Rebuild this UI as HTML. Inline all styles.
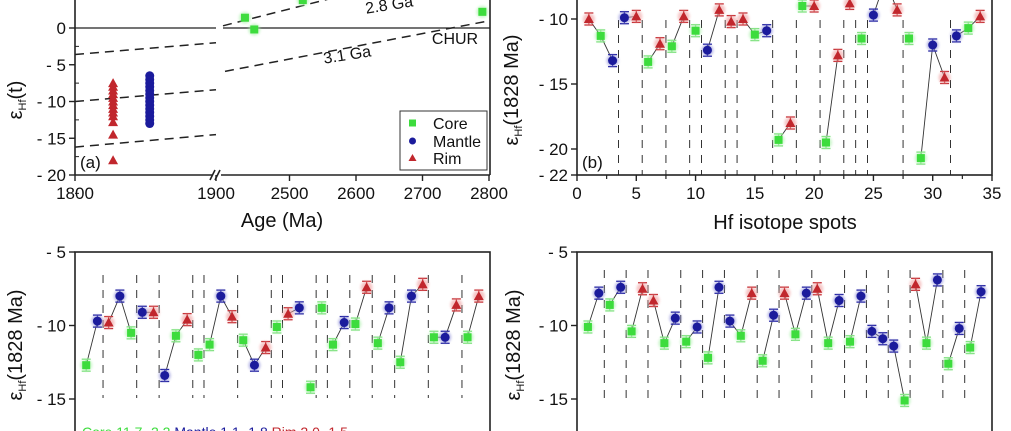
<!DOCTYPE html>
<html><head><meta charset="utf-8"><style>
html,body{margin:0;padding:0;background:#fff;overflow:hidden;width:1011px;height:431px}
svg{display:block;overflow:hidden;font-family:"Liberation Sans",Arial,sans-serif}
</style></head><body>
<svg id="fig" width="1011" height="431" viewBox="0 0 1011 431" xmlns="http://www.w3.org/2000/svg">
<defs><filter id="glow" x="-50%" y="-50%" width="200%" height="200%"><feGaussianBlur stdDeviation="1.2"/></filter></defs>
</svg>
<script>
// ---------- Panel (a) data ----------
var aRimAges=[1827,1827,1827,1827,1827,1827,1827,1827,1827,1827,1827,1827,1827];
var aRimVals=[-7.5,-8,-8.5,-9,-9.5,-10,-10.5,-11,-11.5,-12,-12.8,-14.5,-18];
var aMantleAges=[1853,1853,1853,1853,1853,1853,1853,1853,1853,1853,1853,1853,1853,1853];
var aMantleVals=[-6.5,-7,-7.5,-8,-8.5,-9,-9.5,-10,-10.5,-11,-11.5,-12,-12.5,-13];
var aCoreAges=[2433,2447,2520,2790];
var aCoreVals=[1.4,-0.2,3.8,2.2];
var aYTicks=[0,-5,-10,-15,-20];
var aYTickLabels=["0","- 5","- 10","- 15","- 20"];
// ---------- Panel (b) data ----------
var bVals=[-10.0,-11.3,-13.2,-9.9,-9.8,-13.3,-11.9,-12.1,-9.8,-10.9,-12.4,-9.3,-10.2,-10.0,-11.2,-10.9,-19.3,-18.0,-9.0,-9.0,-19.5,-12.8,-8.8,-11.5,-9.7,-7.0,-9.3,-11.5,-20.7,-12.0,-14.5,-11.3,-10.7,-9.8];
var bTypes=["R","C","M","M","R","C","R","C","R","C","M","R","R","R","C","M","C","R","C","R","C","R","R","C","M","M","R","C","C","M","R","M","C","R"];
var bGroups=[[1,2,3],[4,5],[6,7],[8,9],[10],[11,12],[13],[14,15,16],[17,18],[19,20],[21,22],[23],[24],[25,26,27],[28],[29,30,31],[32,33,34]];
var bDividers=[3.5,5.5,7.5,9.5,10.5,12.5,13.5,16.5,18.5,20.5,22.5,23.5,24.5,27.5,31.5];
var bYTicks=[-10,-15,-20,-22];
var bYTickLabels=["- 10","- 15","- 20","- 22"];
var bXTicks=[0,5,10,15,20,25,30,35];
// ---------- Panel (c) data ----------
var cVals=[-12.7,-9.7,-9.8,-8.0,-10.5,-9.1,-9.1,-13.4,-10.7,-9.6,-12.0,-11.3,-8.0,-9.4,-11.0,-12.7,-11.5,-10.1,-9.2,-8.8,-14.2,-8.8,-11.3,-9.8,-9.9,-7.4,-11.2,-8.8,-12.5,-8.0,-7.2,-10.8,-10.8,-8.6,-10.8,-8.0];
var cTypes=["C","M","R","M","C","M","R","M","C","R","C","C","M","R","C","M","R","C","R","M","C","C","C","M","C","R","C","M","C","M","R","C","M","R","C","R"];
var cGroups=[[1,2],[3,4,5],[6,7],[8,9,10],[11],[12,13,14],[15,16,17],[18],[19,20],[21],[22],[23,24],[25,26],[27,28],[29,30,31],[32,33,34],[35,36]];
var cDividers=[2.5,5.5,7.5,10.5,11.5,14.5,17.5,18.5,21.5,22.5,24.5,26.5,28.5,31.5,34.5];
// ---------- Panel (d) data ----------
var dVals=[-10.1,-7.8,-8.6,-7.4,-10.4,-7.5,-8.3,-11.2,-9.5,-11.1,-10.1,-12.2,-7.4,-9.7,-10.7,-7.8,-12.4,-9.3,-7.8,-10.6,-7.8,-7.5,-11.2,-8.3,-11.1,-8.0,-10.4,-10.9,-11.4,-15.1,-7.2,-11.2,-6.9,-12.6,-10.2,-11.5,-7.7];
var dTypes=["C","M","C","M","C","R","R","C","M","C","M","C","M","M","C","R","C","M","R","C","M","R","C","M","C","M","M","M","M","C","R","C","M","C","M","C","M"];
var dGroups=[[1,2],[3,4],[5,6],[7,8,9],[10,11],[12,13],[14,15,16],[17,18],[19,20,21],[22,23,24],[25,26],[27,28],[29,30],[31,32,33],[34,35],[36,37]];
var dDividers=[2.5,4.5,6.5,9.5,11.5,13.5,16.5,18.5,21.5,24.5,26.5,28.5,30.5,33.5,35.5];
var cdYTicks=[-5,-10,-15];
var cdYTickLabels=["- 5","- 10","- 15"];

var NS="http://www.w3.org/2000/svg";
var svg=document.getElementById('fig');
var COL={C:"#3ddc3d",M:"#1b1b9c",R:"#c1272d"};
var LIGHT={C:"#a8f0a8",M:"#8c8cd8",R:"#f0a0a0"};
function mk(tag,attrs,parent){var e=document.createElementNS(NS,tag);for(var k in attrs)e.setAttribute(k,attrs[k]);(parent||svg).appendChild(e);return e;}
function txt(s,x,y,size,anchor,parent,rot){var t=mk('text',{x:x,y:y,'font-size':size,'text-anchor':anchor||'middle',fill:'#111'},parent);if(rot)t.setAttribute('transform','rotate('+rot+' '+x+' '+y+')');t.textContent=s;return t;}

function marker(g,type,x,y,err,noGlow){
  var c=COL[type];
  if(err){
    var eg=mk('g',{stroke:type==='C'?'#7fe07f':c,'stroke-width':1.3},g);
    mk('line',{x1:x,y1:y-err,x2:x,y2:y+err},eg);
    mk('line',{x1:x-4.5,y1:y-err,x2:x+4.5,y2:y-err},eg);
    mk('line',{x1:x-4.5,y1:y+err,x2:x+4.5,y2:y+err},eg);
  }
  if(!noGlow)mk('circle',{cx:x,cy:y,r:6,fill:LIGHT[type],opacity:0.6,filter:'url(#glow)'},g);
  if(type==='C'){mk('rect',{x:x-4,y:y-4,width:8,height:8,fill:c},g);}
  else if(type==='M'){mk('circle',{cx:x,cy:y,r:4.5,fill:c},g);}
  else {mk('polygon',{points:(x)+','+(y-5)+' '+(x+5)+','+(y+4)+' '+(x-5)+','+(y+4),fill:c},g);}
}

function spotPanel(name,L,R,T,B,xmax,yTop,yBot,vals,types,groups,dividers,yTicks,yLabels,xTicks,divTop,divBot,label,errPx){
  var g=mk('g',{});
  
  
  var sx=function(n){return L+(n/xmax)*(R-L);};
  var sy=function(v){return T+(yTop-v)/(yTop-yBot)*(B-T);};
  var clipId=name+'-clip';
  var cp=mk('clipPath',{id:clipId},g);mk('rect',{x:L,y:T,width:R-L,height:B-T},cp);
  var inner=mk('g',{'clip-path':'url(#'+clipId+')'},g);
  dividers.forEach(function(d){
    var l=mk('line',{x1:sx(d),x2:sx(d),y1:divTop,y2:divBot,stroke:'#333','stroke-width':1,'stroke-dasharray':'8,7'},inner);
    
    
  });
  groups.forEach(function(gr){
    if(gr.length<2)return;
    var pts=gr.map(function(n){return sx(n)+','+sy(vals[n-1]);}).join(' ');
    var pl=mk('polyline',{points:pts,fill:'none',stroke:'#333','stroke-width':0.9},inner);
    
    
  });
  vals.forEach(function(v,i){
    var mg=mk('g',{},inner);
    
    
    marker(mg,types[i],sx(i+1),sy(v),errPx);
  });
  var ax=mk('g',{stroke:'#222','stroke-width':1.6,fill:'none'},g);
  
  
  mk('rect',{x:L,y:T,width:R-L,height:B-T},ax);
  yTicks.forEach(function(t,i){
    var y=sy(t);
    mk('line',{x1:L-6,x2:L,y1:y,y2:y,stroke:'#222','stroke-width':1.4},g);
    var tl=txt(yLabels[i],L-9,y+6,17,'end',g);
    
    
  });
  if(xTicks){xTicks.forEach(function(t){
    var x=sx(t);
    mk('line',{x1:x,x2:x,y1:B,y2:B+6,stroke:'#222','stroke-width':1.4},g);
    var tl=txt(String(t),x,B+24,17,'middle',g);
    
    
    if(t<xmax){mk('line',{x1:sx(t+2.5),x2:sx(t+2.5),y1:B,y2:B+4,stroke:'#222','stroke-width':1.2},g);}
  });}
  if(label){var pl2=txt(label,L+5,B-7,17,'start',g);}
  return {g:g,sx:sx,sy:sy};
}

function yTitle(x,y,suffix,name){
  var t=mk('text',{x:x,y:y,'font-size':20,'text-anchor':'middle',fill:'#111',transform:'rotate(-90 '+x+' '+y+')'});
  
  
  t.innerHTML='ε<tspan font-size="11" dy="4">Hf</tspan><tspan dy="-4">'+suffix+'</tspan>';
}

// ---------- Panel (a) ----------
(function(){
  var L=75,R=490,T=-20,B=175,BRK=216,RS=223;
  var g=mk('g',{});
  
  
  var sy=function(v){return 28+(0-v)*(175-28)/20;};
  var sx=function(a){return a<=1900? L+(a-1800)/100*(BRK-L) : RS+(a-2400)/100*66.5;};
  mk('line',{x1:L,x2:BRK,y1:sy(0),y2:sy(0),stroke:'#222','stroke-width':1.2},g);
  mk('line',{x1:RS,x2:R,y1:sy(0),y2:sy(0),stroke:'#222','stroke-width':1.2},g);
  var dl=[[L,-3.6,BRK,-2],[L,-10,BRK,-8.4],[L,-16.2,BRK,-14.5],[RS,0.3,R,9.5],[RS+2,-5.9,R,1.0]];
  dl.forEach(function(d){
    var l=mk('line',{x1:d[0],y1:sy(d[1]),x2:d[2],y2:sy(d[3]),stroke:'#222','stroke-width':1.5,'stroke-dasharray':'9,6'},g);
    
    
  });
  txt('2.8 Ga',390,10,16,'middle',g,-9);
  txt('3.1 Ga',348,60,16,'middle',g,-9);
  var ch=txt('CHUR',455,44,16,'middle',g);
  aRimVals.forEach(function(v,i){var m=mk('g',{},g);marker(m,'R',sx(aRimAges[i]),sy(v),0,true);});
  aMantleVals.forEach(function(v,i){var m=mk('g',{},g);marker(m,'M',sx(aMantleAges[i]),sy(v),0,true);});
  aCoreVals.forEach(function(v,i){var m=mk('g',{},g);marker(m,'C',sx(aCoreAges[i]),sy(v),0);});
  var ax=mk('g',{stroke:'#222','stroke-width':1.6},g);
  
  mk('line',{x1:L,x2:L,y1:T,y2:B},ax);mk('line',{x1:R,x2:R,y1:T,y2:B},ax);
  mk('line',{x1:L,x2:BRK-4,y1:B,y2:B},ax);mk('line',{x1:RS-2,x2:R,y1:B,y2:B},ax);
  mk('line',{x1:BRK-6,y1:B+5,x2:BRK-1,y2:B-5},ax);mk('line',{x1:BRK-1,y1:B+5,x2:BRK+4,y2:B-5},ax);
  aYTicks.forEach(function(t,i){
    mk('line',{x1:L-6,x2:L,y1:sy(t),y2:sy(t),stroke:'#222','stroke-width':1.4},g);
    mk('line',{x1:L,x2:L+4,y1:sy(t-2.5),y2:sy(t-2.5),stroke:'#222','stroke-width':1},g);
    var tl=txt(aYTickLabels[i],L-9,sy(t)+6,17,'end',g);
  });
  [[1800,'1800'],[1900,'1900'],[2500,'2500'],[2600,'2600'],[2700,'2700'],[2800,'2800']].forEach(function(t){
    var x=sx(t[0]);mk('line',{x1:x,x2:x,y1:B,y2:B+6,stroke:'#222','stroke-width':1.4},g);
    var tl=txt(t[1],x,B+24,17,'middle',g);
  });
  var pa=txt('(a)',80,168,17,'start',g);
  var xt=txt('Age (Ma)',282,227,20,'middle',g);
  var lg=mk('g',{},g);
  mk('rect',{x:400,y:111,width:87,height:59,fill:'#fff',stroke:'#333','stroke-width':1},lg);
  [['C','Core',123],['M','Mantle',141],['R','Rim',158]].forEach(function(e){
    var eg=mk('g',{},lg);
    var c=COL[e[0]];
    if(e[0]==='C')mk('rect',{x:409,y:e[2]-3.5,width:7,height:7,fill:c},eg);
    else if(e[0]==='M')mk('circle',{cx:412.5,cy:e[2],r:3.5,fill:c},eg);
    else mk('polygon',{points:'412.5,'+(e[2]-4)+' 416.5,'+(e[2]+3)+' 408.5,'+(e[2]+3),fill:c},eg);
    txt(e[1],433,e[2]+6,16,'start',eg);
  });
})();
yTitle(22,100,'(t)','y-axis-title-a');

// ---------- Panel (b) ---------- (-10 at y=19, 13 px per unit, top at y=-20)
spotPanel('panel-b',577,992,-20,175,35,-10+39/13,-22,bVals,bTypes,bGroups,bDividers,bYTicks,bYTickLabels,bXTicks,20,175,'(b)',6);
yTitle(518,90,'(1828 Ma)','y-axis-title-b');
var bxt=txt('Hf isotope spots',785,229,20,'middle');



// ---------- Panel (c) ---------- (-5 at y=252, 14.7 px per unit)
spotPanel('panel-c',75,490,252,440,37,-5,-5-188/14.7,cVals,cTypes,cGroups,cDividers,cdYTicks,cdYTickLabels,null,275,398,null,6);
yTitle(22,345,'(1828 Ma)','y-axis-title-c');
// ---------- Panel (d) ----------
spotPanel('panel-d',577,992,252,440,38,-5,-5-188/14.7,dVals,dTypes,dGroups,dDividers,cdYTicks,cdYTickLabels,null,270,398,null,6);
yTitle(520,345,'(1828 Ma)','y-axis-title-d');
var st=mk('text',{x:82,y:437,'font-size':14,fill:'#3ddc3d'});


st.innerHTML='Core 11.7 -2.2 <tspan fill="#1b1b9c">Mantle 1.1 -1.8</tspan> <tspan fill="#c1272d">Rim 2.0 -1.5</tspan>';
</script>
</body></html>
